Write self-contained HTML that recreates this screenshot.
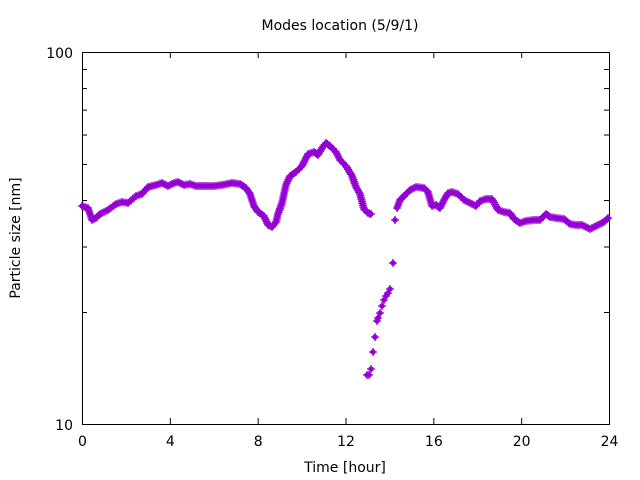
<!DOCTYPE html>
<html><head><style>body{margin:0;background:#fff}svg{display:block}text{font-family:"DejaVu Sans","Liberation Sans",sans-serif;font-size:14px;fill:#000}</style></head>
<body>
<svg id="s" width="640" height="480" xmlns="http://www.w3.org/2000/svg">
<text x="340" y="30" text-anchor="middle">Modes location (5/9/1)</text>
<text x="345" y="472" text-anchor="middle">Time [hour]</text>
<text transform="translate(20,238) rotate(-90)" text-anchor="middle">Particle size [nm]</text>
<text x="73" y="58" text-anchor="end">100</text>
<text x="73" y="430" text-anchor="end">10</text>
<g id="xl"></g>
<g id="ax" stroke="#000" stroke-width="1" fill="none"><rect x="82.5" y="52.5" width="527" height="372"/></g>
<g id="pts" fill="#9400d3" stroke="#9400d3"></g>
</svg>
<script>
var NS="http://www.w3.org/2000/svg",s=document.getElementById('s'),ax=document.getElementById('ax'),xl=document.getElementById('xl'),P=document.getElementById('pts');
function el(p,t,a){var e=document.createElementNS(NS,t);for(var k in a)e.setAttribute(k,a[k]);p.appendChild(e);return e}
for(var h=0;h<=24;h+=4){var x=82.5+527*h/24;el(ax,'line',{x1:x,y1:424,x2:x,y2:418});el(ax,'line',{x1:x,y1:52,x2:x,y2:58});var t=el(xl,'text',{x:x,y:446,'text-anchor':'middle'});t.textContent=h;}
for(var k=1;k<=10;k++){var y=424.5-372*Math.log10(k);var L=(k==1||k==10)?9:5;el(ax,'line',{x1:82,y1:y,x2:82+L,y2:y});el(ax,'line',{x1:609,y1:y,x2:609-L,y2:y});}
var A=[[82,206],[88,208],[92,220],[96,218],[100,214],[108,210],[116,204],[122,202],[128,203],[136,196],[142,194],[148,187],[156,185],[162,183],[168,186],[174,183],[178,182],[184,185],[190,184],[196,186],[206,186],[214,186],[222,185],[232,183],[240,184],[246,188],[250,194],[254,206],[258,212],[264,216],[268,225],[272,227],[276,222],[278,214],[282,203],[286,185],[290,176],[296,172],[302,166],[308,154],[314,152],[318,155],[322,148],[326,143],[330,146],[336,152],[340,160],[346,166],[352,176],[356,187],[360,194],[364,209],[368,213],[371,214]];
var B=[[397,208],[400,200],[404,196],[410,190],[416,187],[424,188],[428,192],[432,206],[436,205],[440,208],[444,200],[448,193],[452,192],[458,194],[464,200],[470,203],[476,206],[480,201],[486,199],[492,199],[498,210],[504,212],[510,213],[514,219],[520,223],[526,221],[534,220],[540,220],[546,214],[550,217],[556,218],[564,219],[570,224],[576,225],[582,225],[590,229],[598,225],[604,222],[608,218]];
var S=[[367,375],[369,375],[371,369],[373,352],[375,337],[377,321],[378,318],[380,313],[382,306],[384,300],[386,296],[388,293],[390,289],[393,263],[395,220]];
function dot(x,y){el(P,'circle',{cx:x,cy:y,r:2.7,'stroke-width':0});el(P,'path',{d:'M'+(x-4)+' '+y+'h8M'+x+' '+(y-4)+'v8','stroke-width':1.3});}
function run(a){for(var i=0;i<a.length-1;i++){var p=a[i],q=a[i+1],d=Math.hypot(q[0]-p[0],q[1]-p[1]),n=Math.max(1,Math.round(d/2));for(var j=0;j<n;j++)dot(p[0]+(q[0]-p[0])*j/n,p[1]+(q[1]-p[1])*j/n);}dot(a[a.length-1][0],a[a.length-1][1]);}
run(A);run(B);S.forEach(function(p){dot(p[0],p[1])});
</script>
</body></html>
